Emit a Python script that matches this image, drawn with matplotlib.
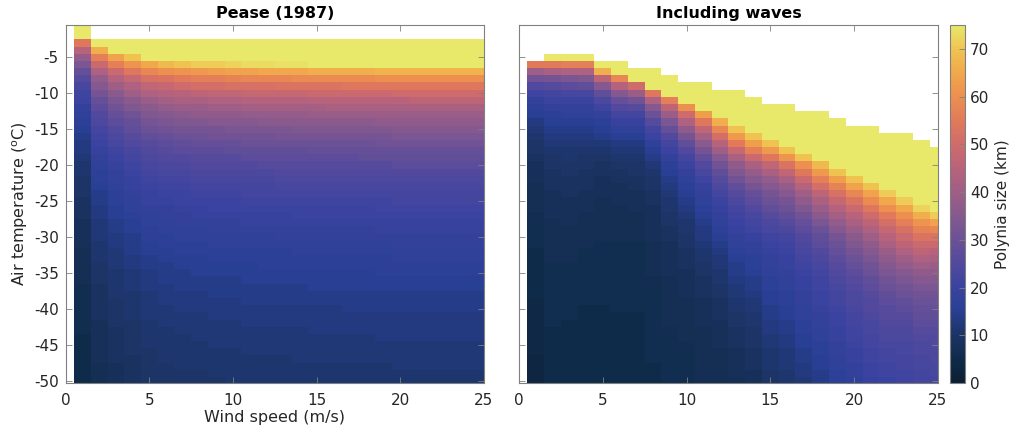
import numpy as np
import matplotlib
matplotlib.use("Agg")
import matplotlib.pyplot as plt
from matplotlib.colors import LinearSegmentedColormap

N = None

# Grid: wind speed (m/s) and air temperature (deg C) at cell centres
wind_speed = np.arange(1, 26)
air_temp = np.arange(-1, -51, -1)

# Polynya size (km), Pease (1987); one list per wind speed, T = -1 ... -50
pease = [
    [95, 85, 54, 45, 38, 33, 29, 26, 23, 21, 20, 18, 17, 16, 15, 14, 13, 13, 12, 11, 11, 10, 10, 10, 9, 9, 9, 8, 8, 8, 8, 7, 7, 7, 7, 7, 6, 6, 6, 6, 6, 6, 6, 5, 5, 5, 5, 5, 5, 5],
    [N, N, 81, 66, 56, 49, 43, 38, 35, 32, 29, 27, 25, 24, 22, 21, 20, 19, 18, 17, 16, 16, 15, 14, 14, 13, 13, 12, 12, 12, 11, 11, 11, 10, 10, 10, 9, 9, 9, 9, 9, 8, 8, 8, 8, 8, 8, 7, 7, 7],
    [N, N, 92, 76, 64, 56, 49, 44, 40, 36, 33, 31, 29, 27, 25, 24, 23, 21, 20, 19, 18, 18, 17, 16, 16, 15, 15, 14, 14, 13, 13, 12, 12, 12, 11, 11, 11, 11, 10, 10, 10, 10, 9, 9, 9, 9, 9, 8, 8, 8],
    [N, N, 101, 83, 70, 61, 54, 48, 43, 40, 36, 34, 31, 29, 28, 26, 25, 23, 22, 21, 20, 19, 19, 18, 17, 17, 16, 15, 15, 14, 14, 14, 13, 13, 12, 12, 12, 11, 11, 11, 11, 10, 10, 10, 10, 10, 9, 9, 9, 9],
    [N, N, 109, 89, 76, 65, 58, 52, 47, 43, 39, 36, 34, 32, 30, 28, 26, 25, 24, 23, 22, 21, 20, 19, 19, 18, 17, 17, 16, 16, 15, 15, 14, 14, 13, 13, 13, 12, 12, 12, 12, 11, 11, 11, 11, 10, 10, 10, 10, 10],
    [N, N, 113, 92, 78, 68, 60, 53, 48, 44, 41, 38, 35, 33, 31, 29, 27, 26, 25, 24, 23, 22, 21, 20, 19, 18, 18, 17, 17, 16, 16, 15, 15, 14, 14, 14, 13, 13, 13, 12, 12, 12, 11, 11, 11, 11, 11, 10, 10, 10],
    [N, N, 116, 95, 80, 70, 61, 55, 50, 45, 42, 39, 36, 34, 32, 30, 28, 27, 25, 24, 23, 22, 21, 20, 20, 19, 18, 18, 17, 17, 16, 16, 15, 15, 14, 14, 14, 13, 13, 13, 12, 12, 12, 11, 11, 11, 11, 11, 10, 10],
    [N, N, 118, 96, 82, 71, 62, 56, 51, 46, 42, 39, 37, 34, 32, 30, 29, 27, 26, 25, 24, 23, 22, 21, 20, 19, 19, 18, 17, 17, 16, 16, 15, 15, 15, 14, 14, 13, 13, 13, 12, 12, 12, 12, 11, 11, 11, 11, 10, 10],
    [N, N, 119, 97, 82, 71, 63, 56, 51, 47, 43, 40, 37, 35, 32, 31, 29, 27, 26, 25, 24, 23, 22, 21, 20, 20, 19, 18, 18, 17, 17, 16, 16, 15, 15, 14, 14, 14, 13, 13, 13, 12, 12, 12, 12, 11, 11, 11, 11, 10],
    [N, N, 120, 98, 83, 72, 64, 57, 52, 47, 43, 40, 37, 35, 33, 31, 29, 28, 26, 25, 24, 23, 22, 21, 20, 20, 19, 18, 18, 17, 17, 16, 16, 15, 15, 14, 14, 14, 13, 13, 13, 12, 12, 12, 12, 11, 11, 11, 11, 11],
    [N, N, 122, 99, 84, 73, 64, 58, 52, 48, 44, 41, 38, 35, 33, 31, 30, 28, 27, 25, 24, 23, 22, 22, 21, 20, 19, 19, 18, 17, 17, 16, 16, 15, 15, 15, 14, 14, 14, 13, 13, 13, 12, 12, 12, 12, 11, 11, 11, 11],
    [N, N, 122, 100, 85, 73, 65, 58, 52, 48, 44, 41, 38, 36, 33, 31, 30, 28, 27, 26, 24, 23, 22, 22, 21, 20, 19, 19, 18, 17, 17, 16, 16, 16, 15, 15, 14, 14, 14, 13, 13, 13, 12, 12, 12, 12, 11, 11, 11, 11],
    [N, N, 123, 100, 85, 74, 65, 58, 53, 48, 44, 41, 38, 36, 33, 32, 30, 28, 27, 26, 25, 24, 23, 22, 21, 20, 19, 19, 18, 18, 17, 16, 16, 16, 15, 15, 14, 14, 14, 13, 13, 13, 12, 12, 12, 12, 11, 11, 11, 11],
    [N, N, 124, 101, 86, 74, 65, 59, 53, 48, 44, 41, 38, 36, 34, 32, 30, 28, 27, 26, 25, 24, 23, 22, 21, 20, 20, 19, 18, 18, 17, 17, 16, 16, 15, 15, 14, 14, 14, 13, 13, 13, 12, 12, 12, 12, 12, 11, 11, 11],
    [N, N, 124, 102, 86, 75, 66, 59, 53, 49, 45, 41, 39, 36, 34, 32, 30, 29, 27, 26, 25, 24, 23, 22, 21, 20, 20, 19, 18, 18, 17, 17, 16, 16, 15, 15, 15, 14, 14, 13, 13, 13, 13, 12, 12, 12, 12, 11, 11, 11],
    [N, N, 125, 102, 86, 75, 66, 59, 53, 49, 45, 42, 39, 36, 34, 32, 30, 29, 27, 26, 25, 24, 23, 22, 21, 20, 20, 19, 18, 18, 17, 17, 16, 16, 15, 15, 15, 14, 14, 13, 13, 13, 13, 12, 12, 12, 12, 11, 11, 11],
    [N, N, 125, 102, 87, 75, 66, 59, 54, 49, 45, 42, 39, 36, 34, 32, 30, 29, 27, 26, 25, 24, 23, 22, 21, 20, 20, 19, 18, 18, 17, 17, 16, 16, 15, 15, 15, 14, 14, 14, 13, 13, 13, 12, 12, 12, 12, 11, 11, 11],
    [N, N, 125, 103, 87, 75, 66, 59, 54, 49, 45, 42, 39, 36, 34, 32, 30, 29, 28, 26, 25, 24, 23, 22, 21, 20, 20, 19, 18, 18, 17, 17, 16, 16, 15, 15, 15, 14, 14, 14, 13, 13, 13, 12, 12, 12, 12, 11, 11, 11],
    [N, N, 126, 103, 87, 76, 67, 60, 54, 49, 45, 42, 39, 37, 34, 32, 31, 29, 28, 26, 25, 24, 23, 22, 21, 21, 20, 19, 19, 18, 17, 17, 16, 16, 16, 15, 15, 14, 14, 14, 13, 13, 13, 13, 12, 12, 12, 11, 11, 11],
    [N, N, 126, 103, 88, 76, 67, 60, 54, 50, 45, 42, 39, 37, 35, 33, 31, 29, 28, 27, 25, 24, 23, 22, 22, 21, 20, 19, 19, 18, 18, 17, 17, 16, 16, 15, 15, 14, 14, 14, 13, 13, 13, 13, 12, 12, 12, 12, 11, 11],
    [N, N, 127, 104, 88, 76, 67, 60, 54, 50, 46, 42, 39, 37, 35, 33, 31, 29, 28, 27, 25, 24, 23, 22, 22, 21, 20, 19, 19, 18, 18, 17, 17, 16, 16, 15, 15, 14, 14, 14, 13, 13, 13, 13, 12, 12, 12, 12, 11, 11],
    [N, N, 127, 104, 88, 76, 67, 60, 54, 50, 46, 42, 39, 37, 35, 33, 31, 29, 28, 27, 25, 24, 23, 22, 22, 21, 20, 19, 19, 18, 18, 17, 17, 16, 16, 15, 15, 14, 14, 14, 13, 13, 13, 13, 12, 12, 12, 12, 11, 11],
    [N, N, 127, 104, 88, 76, 67, 60, 54, 50, 46, 42, 39, 37, 35, 33, 31, 29, 28, 27, 25, 24, 23, 22, 22, 21, 20, 19, 19, 18, 18, 17, 17, 16, 16, 15, 15, 14, 14, 14, 13, 13, 13, 13, 12, 12, 12, 12, 11, 11],
    [N, N, 127, 104, 88, 76, 67, 60, 54, 50, 46, 42, 39, 37, 35, 33, 31, 29, 28, 27, 25, 24, 23, 22, 22, 21, 20, 19, 19, 18, 18, 17, 17, 16, 16, 15, 15, 14, 14, 14, 13, 13, 13, 13, 12, 12, 12, 12, 11, 11],
    [N, N, 127, 104, 88, 76, 67, 60, 54, 50, 46, 42, 39, 37, 35, 33, 31, 29, 28, 27, 25, 24, 23, 22, 22, 21, 20, 19, 19, 18, 18, 17, 17, 16, 16, 15, 15, 14, 14, 14, 13, 13, 13, 13, 12, 12, 12, 12, 11, 11],
]

# Polynya size (km) including waves; one list per wind speed, T = -1 ... -50
waves = [
    [N] * 5 + [55, 40, 31, 25, 21, 18, 16, 15, 13, 12, 11, 10, 10, 9, 8, 8, 8, 7, 7, 7, 7, 6, 6, 6, 6, 6, 5, 5, 5, 5, 5, 5, 5, 4, 4, 4, 4, 4, 4, 4, 4, 3, 3, 3, 3],
    [N] * 4 + [85, 55, 42, 32, 26, 22, 20, 18, 16, 15, 14, 13, 12, 11, 10, 10, 9, 9, 9, 8, 8, 8, 8, 7, 7, 7, 7, 7, 7, 6, 6, 6, 6, 6, 6, 6, 6, 6, 5, 5, 5, 5, 5, 5, 5, 5],
    [N] * 4 + [85, 56, 43, 33, 27, 23, 20, 18, 17, 15, 14, 13, 12, 11, 11, 10, 10, 9, 9, 9, 8, 8, 8, 8, 7, 7, 7, 7, 7, 6, 6, 6, 6, 6, 6, 6, 6, 5, 5, 5, 5, 5, 5, 5, 5, 5],
    [N] * 4 + [82, 56, 43, 34, 28, 23, 20, 18, 17, 15, 14, 13, 12, 11, 10, 10, 9, 9, 9, 8, 8, 8, 7, 7, 7, 7, 7, 6, 6, 6, 6, 6, 6, 6, 6, 5, 5, 5, 5, 5, 5, 5, 5, 5, 5, 5],
    [N] * 5 + [80, 66, 46, 35, 28, 24, 21, 18, 16, 15, 14, 12, 11, 10, 9, 9, 8, 8, 8, 7, 7, 7, 7, 7, 7, 6, 6, 6, 6, 6, 6, 6, 6, 6, 5, 5, 5, 5, 5, 5, 5, 5, 5, 5, 5],
    [N] * 5 + [85, 78, 58, 44, 35, 29, 25, 22, 19, 17, 15, 13, 12, 11, 10, 9, 9, 8, 8, 8, 7, 7, 7, 7, 7, 6, 6, 6, 6, 6, 6, 6, 6, 6, 6, 5, 5, 5, 5, 5, 5, 5, 5, 5, 5],
    [N] * 6 + [90, 78, 50, 39, 31, 26, 22, 19, 17, 15, 13, 12, 11, 10, 10, 9, 9, 8, 8, 8, 7, 7, 7, 7, 6, 6, 6, 6, 6, 6, 6, 6, 6, 6, 5, 5, 5, 5, 5, 5, 5, 5, 5, 5],
    [N] * 6 + [95, 85, 77, 54, 43, 35, 30, 26, 22, 20, 17, 15, 14, 12, 11, 10, 10, 9, 9, 8, 8, 8, 8, 8, 7, 7, 7, 7, 7, 6, 6, 6, 6, 6, 6, 6, 6, 6, 6, 6, 6, 5, 5, 5],
    [N] * 7 + [95, 85, 77, 56, 46, 39, 33, 29, 25, 22, 20, 18, 16, 15, 14, 13, 12, 11, 11, 10, 10, 9, 9, 8, 8, 8, 8, 8, 7, 7, 7, 7, 7, 7, 7, 6, 6, 6, 6, 6, 6, 6, 6],
    [N] * 8 + [95, 85, 77, 60, 50, 43, 37, 32, 28, 25, 22, 20, 18, 17, 16, 15, 14, 13, 12, 11, 11, 10, 10, 9, 9, 9, 8, 8, 8, 8, 7, 7, 7, 7, 7, 7, 6, 6, 6, 6, 6, 6],
    [N] * 8 + [100, 90, 83, 77, 63, 54, 47, 41, 36, 32, 28, 25, 23, 21, 19, 18, 17, 16, 15, 14, 13, 13, 12, 11, 11, 10, 10, 9, 9, 9, 8, 8, 8, 8, 7, 7, 7, 7, 7, 7, 7, 7],
    [N] * 9 + [100, 90, 83, 77, 66, 58, 51, 45, 40, 35, 31, 28, 26, 24, 22, 20, 19, 18, 17, 16, 15, 14, 13, 12, 12, 11, 11, 10, 10, 9, 9, 9, 8, 8, 8, 8, 7, 7, 7, 7, 7],
    [N] * 9 + [110, 100, 90, 83, 77, 70, 62, 55, 48, 42, 37, 34, 31, 28, 26, 24, 22, 21, 20, 19, 18, 17, 16, 15, 14, 14, 13, 12, 12, 11, 11, 10, 10, 9, 9, 9, 8, 8, 8, 8, 7],
    [N] * 10 + [110, 100, 90, 83, 77, 70, 63, 56, 49, 42, 38, 35, 32, 29, 27, 25, 23, 22, 21, 19, 18, 17, 16, 16, 15, 14, 14, 13, 12, 12, 11, 11, 10, 10, 10, 9, 9, 9, 8, 8],
    [N] * 11 + [110, 100, 90, 83, 77, 70, 62, 54, 47, 42, 38, 35, 32, 30, 28, 26, 24, 23, 21, 20, 19, 18, 18, 17, 16, 16, 15, 15, 14, 14, 13, 13, 12, 12, 11, 11, 11, 10, 10],
    [N] * 11 + [115, 105, 95, 88, 82, 77, 70, 61, 53, 47, 42, 38, 35, 32, 30, 28, 26, 24, 22, 21, 20, 19, 19, 18, 17, 17, 16, 16, 15, 15, 14, 14, 13, 13, 12, 12, 12, 11, 11],
    [N] * 12 + [115, 105, 95, 88, 82, 77, 70, 60, 54, 49, 44, 40, 37, 34, 31, 29, 27, 25, 24, 23, 22, 21, 20, 19, 19, 18, 18, 17, 17, 16, 16, 15, 15, 14, 14, 13, 13, 12],
    [N] * 12 + [120, 110, 100, 92, 86, 81, 77, 68, 62, 56, 51, 46, 42, 39, 36, 33, 30, 28, 27, 25, 24, 23, 22, 21, 21, 20, 20, 19, 18, 18, 17, 17, 16, 16, 15, 15, 14, 14],
    [N] * 13 + [120, 110, 100, 92, 86, 81, 77, 70, 63, 57, 52, 48, 44, 41, 38, 35, 32, 30, 29, 27, 26, 25, 24, 23, 22, 22, 21, 20, 20, 19, 19, 18, 18, 17, 17, 16, 16],
    [N] * 14 + [120, 110, 100, 92, 86, 81, 77, 70, 64, 58, 53, 49, 45, 42, 39, 36, 34, 32, 30, 29, 27, 26, 25, 24, 24, 23, 22, 22, 21, 21, 20, 19, 19, 18, 18, 17],
    [N] * 14 + [125, 115, 105, 97, 90, 85, 80, 76, 70, 64, 59, 54, 50, 46, 43, 40, 37, 35, 33, 31, 30, 28, 27, 26, 25, 25, 24, 23, 23, 22, 22, 21, 21, 20, 20, 19],
    [N] * 15 + [125, 115, 105, 97, 90, 85, 80, 76, 71, 65, 60, 55, 51, 48, 45, 42, 39, 37, 35, 33, 31, 30, 28, 27, 26, 26, 25, 24, 24, 23, 22, 22, 21, 21, 20],
    [N] * 15 + [130, 120, 110, 102, 95, 89, 84, 80, 76, 71, 65, 60, 56, 52, 49, 46, 43, 40, 38, 35, 33, 31, 30, 28, 27, 26, 25, 24, 24, 23, 23, 22, 22, 21, 21],
    [N] * 16 + [130, 120, 110, 102, 95, 89, 84, 80, 76, 72, 66, 61, 57, 53, 49, 46, 43, 40, 37, 35, 33, 31, 30, 29, 28, 27, 26, 25, 24, 24, 23, 23, 22, 22],
    [N] * 17 + [130, 120, 110, 102, 95, 89, 84, 80, 76, 71, 64, 58, 53, 49, 45, 42, 39, 37, 35, 33, 31, 30, 29, 28, 27, 26, 25, 25, 24, 24, 23, 23, 22],
]

panel_titles = ["Pease (1987)", "Including waves"]
x_ticks = [0, 5, 10, 15, 20, 25]
y_ticks = [-50, -45, -40, -35, -30, -25, -20, -15, -10, -5]
cbar_ticks = [0, 10, 20, 30, 40, 50, 60, 70]
vmax = 75

# Thermal-style colormap (dark navy -> blue -> purple -> orange -> yellow)
thermal_colors = ["#0c1f33", "#0f2b4a", "#1c3466", "#283f94", "#3a43a0",
                  "#52499e", "#6b5196", "#85598f", "#9f5e86", "#b8637b",
                  "#cf6b6b", "#e27a5a", "#ec8f4f", "#f1a74b", "#f0c351",
                  "#e8e86a"]
cmap = LinearSegmentedColormap.from_list("thermal_like", thermal_colors, N=256)

plt.rcParams["font.family"] = "DejaVu Sans"
plt.rcParams["axes.unicode_minus"] = False
text_color = "#262626"
edge_color = "#808080"

fig = plt.figure(figsize=(10.12, 4.36), dpi=100)
ax_l = fig.add_axes([0.0649, 0.1216, 0.4133, 0.8211])
ax_r = fig.add_axes([0.5128, 0.1216, 0.4140, 0.8211])
cax = fig.add_axes([0.9387, 0.1216, 0.0148, 0.8211])

x_edges = np.append(wind_speed - 0.5, wind_speed[-1] + 0.5)
y_edges = np.append(air_temp + 0.5, air_temp[-1] - 0.5)

mesh = None
for ax, data, title in zip([ax_l, ax_r], [pease, waves], panel_titles):
    Z = np.array(data, dtype=float).T
    mesh = ax.pcolormesh(x_edges, y_edges, Z, cmap=cmap, vmin=0, vmax=vmax,
                         shading="flat", edgecolors="none", antialiased=False)
    ax.set_xlim(0, 25)
    ax.set_ylim(-50.33, -0.5)
    ax.set_xticks(x_ticks)
    ax.set_yticks(y_ticks)
    ax.tick_params(direction="in", top=True, right=True, length=4, width=0.6,
                   labelsize=11, colors=edge_color, labelcolor=text_color)
    ax.tick_params(axis="x", pad=7)
    ax.tick_params(axis="y", pad=5)
    for sp in ax.spines.values():
        sp.set_color(edge_color)
        sp.set_linewidth(0.8)
    ax.set_title(title, fontsize=11.5, fontweight="bold", color="black", pad=5)

ax_l.set_xlabel("Wind speed (m/s)", fontsize=11.5, color=text_color, labelpad=2)
ax_l.set_ylabel("Air temperature ($^{\\rm o}$C)", fontsize=11.5, color=text_color, labelpad=3)
ax_r.set_yticklabels([])

cbar = fig.colorbar(mesh, cax=cax, ticks=cbar_ticks)
cbar.ax.set_ylim(0, vmax)
cbar.outline.set_edgecolor(edge_color)
cbar.outline.set_linewidth(0.8)
cax.tick_params(direction="in", length=4, width=0.6, labelsize=11,
                colors=edge_color, labelcolor=text_color)
cbar.set_label("Polynia size (km)", fontsize=11, color=text_color, labelpad=4)

fig.savefig("out.png", dpi=100)
